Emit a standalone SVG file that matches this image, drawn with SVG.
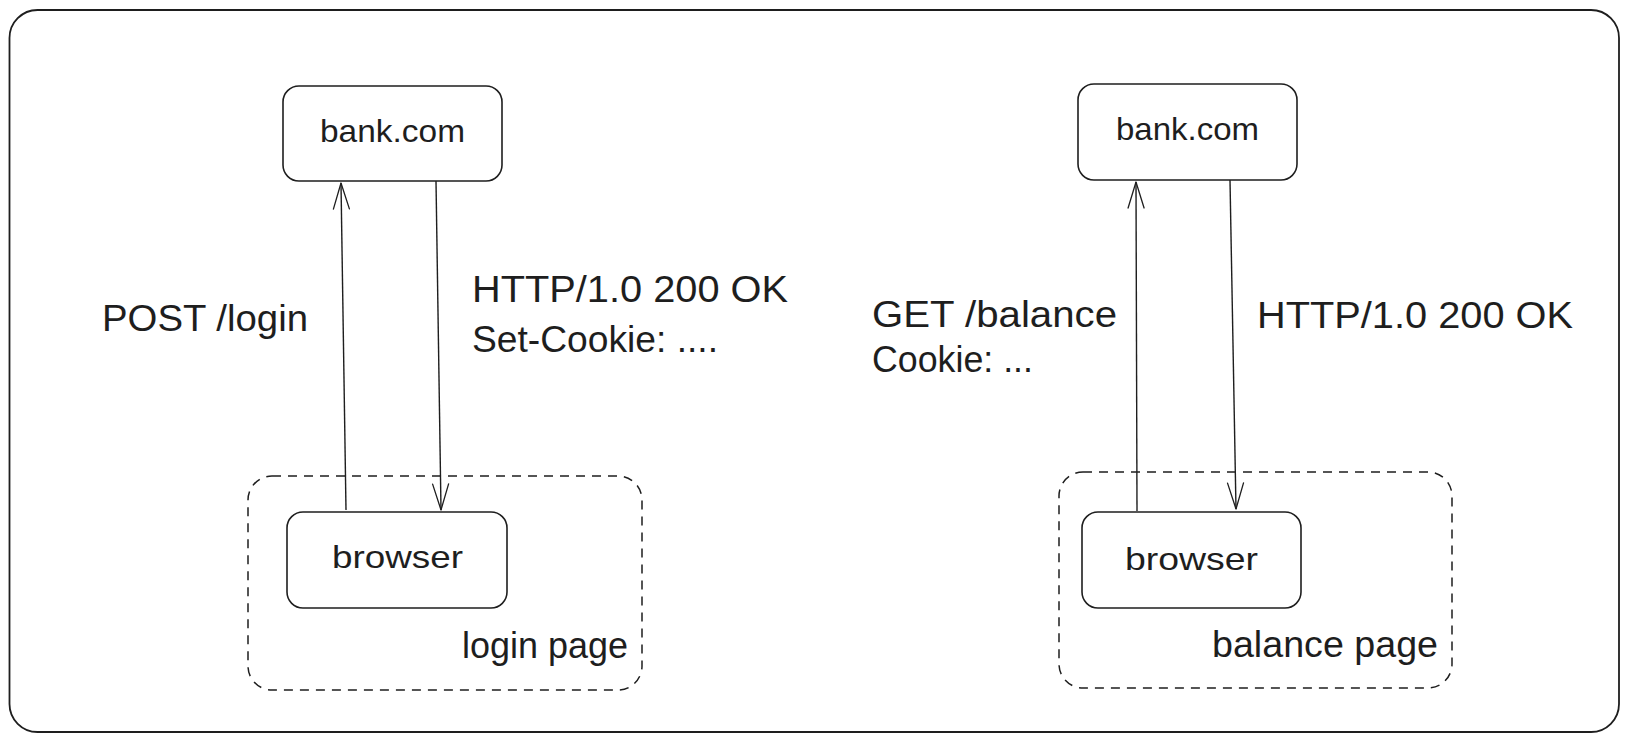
<svg xmlns="http://www.w3.org/2000/svg" width="1629" height="743" viewBox="0 0 1629 743">
  <defs>
    <marker id="open" viewBox="0 0 30 20" refX="29" refY="10" markerWidth="30" markerHeight="20" markerUnits="userSpaceOnUse" orient="auto">
      <path d="M3,2 L29,10 L3,18" fill="none" stroke="#1e1e1e" stroke-width="1.3" stroke-linecap="round" stroke-linejoin="round"/>
    </marker>
    <style>
      .frame { fill: #ffffff; stroke: #1e1e1e; stroke-width: 1.8; }
      .node { fill: #ffffff; stroke: #1e1e1e; stroke-width: 1.6; }
      .group { fill: none; stroke: #1e1e1e; stroke-width: 1.5; stroke-dasharray: 9 7; }
      .conn { fill: none; stroke: #1e1e1e; stroke-width: 1.4; marker-end: url(#open); }
      .lbl { font-family: "Liberation Sans", Arial, sans-serif; font-size: 36px; fill: #1e1e1e; }
      .ntxt { font-family: "Liberation Sans", Arial, sans-serif; font-size: 32px; fill: #1e1e1e; }
    </style>
  </defs>
  <rect width="1629" height="743" fill="#ffffff"/>
  <g id="frame">
    <rect class="frame" x="9.5" y="10" width="1609.5" height="722" rx="28"/>
  </g>

  <g id="login-page-group">
    <rect class="group" x="248" y="476" width="394" height="214" rx="24"/>
    <text class="lbl" x="462" y="658" textLength="166" lengthAdjust="spacingAndGlyphs">login page</text>
  </g>
  <g id="balance-page-group">
    <rect class="group" x="1059" y="472" width="393" height="216" rx="24"/>
    <text class="lbl" x="1212" y="657" textLength="226" lengthAdjust="spacingAndGlyphs">balance page</text>
  </g>

  <g id="bank-left">
    <rect class="node" x="283" y="86" width="219" height="95" rx="16"/>
    <text class="ntxt" x="320" y="142" textLength="145" lengthAdjust="spacingAndGlyphs">bank.com</text>
  </g>
  <g id="browser-left">
    <rect class="node" x="287" y="512" width="220" height="96" rx="16"/>
    <text class="ntxt" x="332" y="568" textLength="131" lengthAdjust="spacingAndGlyphs">browser</text>
  </g>
  <g id="bank-right">
    <rect class="node" x="1078" y="84" width="219" height="96" rx="16"/>
    <text class="ntxt" x="1116" y="140" textLength="143" lengthAdjust="spacingAndGlyphs">bank.com</text>
  </g>
  <g id="browser-right">
    <rect class="node" x="1082" y="512" width="219" height="96" rx="16"/>
    <text class="ntxt" x="1125" y="570" textLength="133" lengthAdjust="spacingAndGlyphs">browser</text>
  </g>

  <g id="connectors">
    <path class="conn" d="M346,510 L341,183"/>
    <path class="conn" d="M436,181 L441,510"/>
    <path class="conn" d="M1137,511 L1136,182"/>
    <path class="conn" d="M1230,180 L1236,509"/>
  </g>

  <g id="labels">
    <text class="lbl" x="102" y="331" textLength="206" lengthAdjust="spacingAndGlyphs">POST /login</text>
    <text class="lbl" x="472" y="302" textLength="316" lengthAdjust="spacingAndGlyphs">HTTP/1.0 200 OK</text>
    <text class="lbl" x="472" y="352" textLength="246" lengthAdjust="spacingAndGlyphs">Set-Cookie: ....</text>
    <text class="lbl" x="872" y="327" textLength="245" lengthAdjust="spacingAndGlyphs">GET /balance</text>
    <text class="lbl" x="872" y="372" textLength="161" lengthAdjust="spacingAndGlyphs">Cookie: ...</text>
    <text class="lbl" x="1257" y="328" textLength="316" lengthAdjust="spacingAndGlyphs">HTTP/1.0 200 OK</text>
  </g>
</svg>
